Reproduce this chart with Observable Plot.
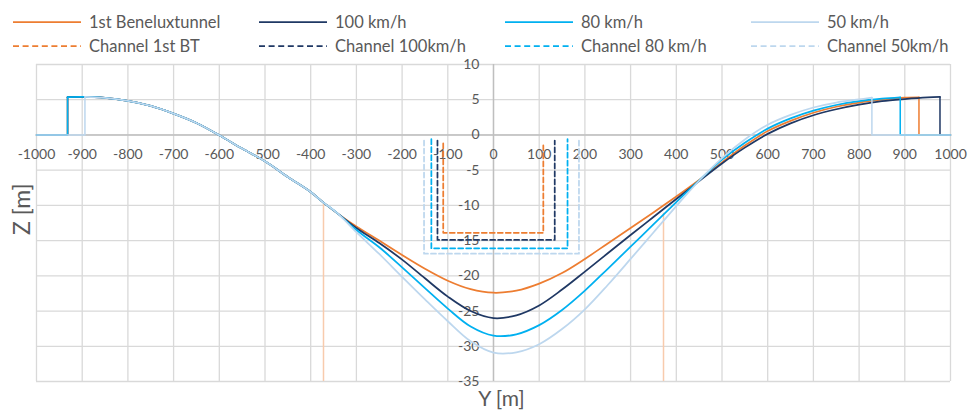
<!DOCTYPE html>
<html><head><meta charset="utf-8">
<script src="https://cdn.jsdelivr.net/npm/d3@7"></script>
<script src="https://cdn.jsdelivr.net/npm/@observablehq/plot@0.6"></script>
<style>
body{margin:0;background:#fff;font-family:Lato,"Open Sans",sans-serif;}
#legend{position:relative;width:972px;height:52px;z-index:2;}
.item{position:absolute;display:flex;align-items:center;height:22px;font-size:16.5px;color:#595959;white-space:nowrap;}
.item span{margin-left:8px;}
#chart{position:relative;z-index:1;}
</style></head><body>
<div id="legend"></div><div id="chart"></div>
<script>
// ---- data ----
const seriesNames = ["1st Beneluxtunnel", "100 km/h", "80 km/h", "50 km/h"];
const channelNames = ["Channel 1st BT", "Channel 100km/h", "Channel 80 km/h", "Channel 50km/h"];
const colors = ["#ED7D31", "#1F3864", "#00B0F0", "#BDD7EE"];

const xTicks = [-1000, -900, -800, -700, -600, -500, -400, -300, -200, -100, 0, 100, 200, 300, 400, 500, 600, 700, 800, 900, 1000];
const yTicks = [10, 5, 0, -5, -10, -15, -20, -25, -30, -35];

// common descending part (all alignments coincide)
const xLeft = [-900, -850, -800, -750, -700, -650, -600, -550, -500, -450, -400, -372, -340];
const zLeft = [5.4, 5.26, 4.83, 4.12, 3.03, 1.7, -0.05, -1.94, -3.74, -5.97, -8.1, -9.6, -11.2];

// individual parts
const xMid = [-300, -250, -200, -150, -100, -50, 0, 50, 100, 150, 200, 250, 300, 350, 400, 450, 500, 550, 600, 650, 700, 750, 800];
const zOrange = [-13.0, -15.0, -17.05, -19.0, -20.7, -21.9, -22.4, -22.1, -21.1, -19.6, -17.6, -15.4, -13.2, -11.0, -8.75, -6.4, -3.9, -1.5, 0.55, 2.0, 3.15, 4.0, 4.6];
const zNavy   = [-13.2, -15.35, -17.7, -20.35, -22.95, -25.0, -26.0, -25.6, -24.2, -21.95, -19.4, -16.8, -14.2, -11.65, -9.1, -6.55, -4.05, -1.8, 0.15, 1.65, 2.8, 3.65, 4.3];
const z80     = [-13.5, -15.95, -18.8, -21.75, -24.65, -27.2, -28.5, -28.3, -27.0, -24.85, -22.1, -19.0, -15.85, -12.7, -9.55, -6.45, -3.5, -1.1, 0.9, 2.35, 3.45, 4.25, 4.8];
const z50     = [-13.8, -16.9, -20.15, -23.35, -26.45, -29.3, -30.9, -30.85, -29.7, -27.55, -24.75, -21.3, -17.6, -13.85, -10.1, -6.5, -3.3, -0.65, 1.45, 2.85, 3.9, 4.6, 5.05];
const zMid = [zOrange, zNavy, z80, z50];

const tailX = [[850, 900], [850, 900, 950], [850], []];
const tailZ = [[5.0, 5.3], [4.8, 5.1, 5.33], [5.15], []];

const startX = [-932, -932, -932, -894];
const startTop = [5.36, 5.36, 5.36, 5.4];
const endX = [931, 977, 890, 828];
const endTop = [5.35, 5.4, 5.35, 5.3];

// channels (U shapes)
const chLeft = [-110, -122.6, -136, -152];
const chRight = [109, 134, 162, 187];
const chBottom = [-13.9, -14.9, -16.1, -16.85];
const chTop = [-1.2, -0.8, -0.6, -0.8];

// tunnel-end markers of 1st Beneluxtunnel
const markX = [-372, 372];
const markTop = [-9.8, -11.1];
const peach = "#F8CBAD";

// ---- legend ----
const legend = document.getElementById("legend");
const rowsY = [22, 45.5];
[seriesNames, channelNames].forEach((names, r) => {
  names.forEach((name, i) => {
    const d = document.createElement("div");
    d.className = "item";
    d.style.left = (13 + 246 * i) + "px";
    d.style.top = (rowsY[r] - 11) + "px";
    d.innerHTML = `<svg width="68" height="22"><line x1="0" x2="68" y1="11" y2="11" stroke="${colors[i]}" stroke-width="1.75" ${r ? 'stroke-dasharray="6,3.6"' : ''}/></svg><span>${name}</span>`;
    legend.appendChild(d);
  });
});

// ---- build line data ----
const curves = [], steps = [];
for (let i = 0; i < 4; i++) {
  const pts = [{x: startX[i], y: startTop[i]}];
  xLeft.forEach((x, j) => { if (x > startX[i]) pts.push({x, y: zLeft[j]}); });
  xMid.forEach((x, j) => pts.push({x, y: zMid[i][j]}));
  tailX[i].forEach((x, j) => pts.push({x, y: tailZ[i][j]}));
  pts.push({x: endX[i], y: endTop[i]});
  curves.push(pts);
  steps.push([
    [{x: -1000, y: 0}, {x: startX[i], y: 0}, {x: startX[i], y: startTop[i]}],
    [{x: endX[i], y: endTop[i]}, {x: endX[i], y: 0}, {x: 1000, y: 0}]
  ]);
}
const channels = chLeft.map((l, i) => [
  {x: l, y: chTop[i]}, {x: l, y: chBottom[i]}, {x: chRight[i], y: chBottom[i]}, {x: chRight[i], y: chTop[i]}
]);

const grey = "#595959";
const font = "Lato, 'Open Sans', sans-serif";
const marks = [
  Plot.gridX(xTicks, {stroke: "#D9D9D9", strokeOpacity: 1, strokeWidth: 1.3}),
  Plot.gridY(yTicks, {stroke: "#D9D9D9", strokeOpacity: 1, strokeWidth: 1.3}),
  Plot.ruleX([0], {stroke: "#BFBFBF", strokeWidth: 1.4}),
  Plot.ruleY([0], {stroke: "#BFBFBF", strokeWidth: 1.4}),
  Plot.text(xTicks.map(v => ({x: v, y: 0})), {x: "x", y: "y", text: d => String(d.x), dy: 20, fill: grey, fontSize: 14}),
  Plot.text(yTicks.map(v => ({x: 0, y: v})), {x: "x", y: "y", text: d => String(d.y), dx: -14, textAnchor: "end", fill: grey, fontSize: 14}),
  Plot.ruleX(markX.map((x, i) => ({x, y1: markTop[i], y2: -35})), {x: "x", y1: "y1", y2: "y2", stroke: peach, strokeWidth: 1.5})
];
channels.forEach((c, i) => marks.push(Plot.line(c, {x: "x", y: "y", stroke: colors[i], strokeWidth: 1.75, strokeDasharray: "5,3"})));
for (let i = 0; i < 4; i++) {
  steps[i].forEach(s => marks.push(Plot.line(s, {x: "x", y: "y", stroke: colors[i], strokeWidth: 1.5})));
  marks.push(Plot.line(curves[i], {x: "x", y: "y", stroke: colors[i], strokeWidth: 1.75, curve: "catmull-rom"}));
}
marks.push(Plot.text(["Y [m]"], {frameAnchor: "bottom", dx: 8, dy: 24.5, fill: grey, fontSize: 21}));
marks.push(Plot.text(["Z [m]"], {frameAnchor: "left", dx: -14, dy: 12, rotate: -90, fill: grey, fontSize: 23}));

const chart = Plot.plot({
  width: 972, height: 358,
  marginTop: 12, marginBottom: 29, marginLeft: 36, marginRight: 22,
  x: {domain: [-1000, 1000], axis: null},
  y: {domain: [-35, 10], axis: null},
  style: {fontFamily: font, background: "transparent", overflow: "visible"},
  marks
});
document.getElementById("chart").appendChild(chart);
</script></body></html>
